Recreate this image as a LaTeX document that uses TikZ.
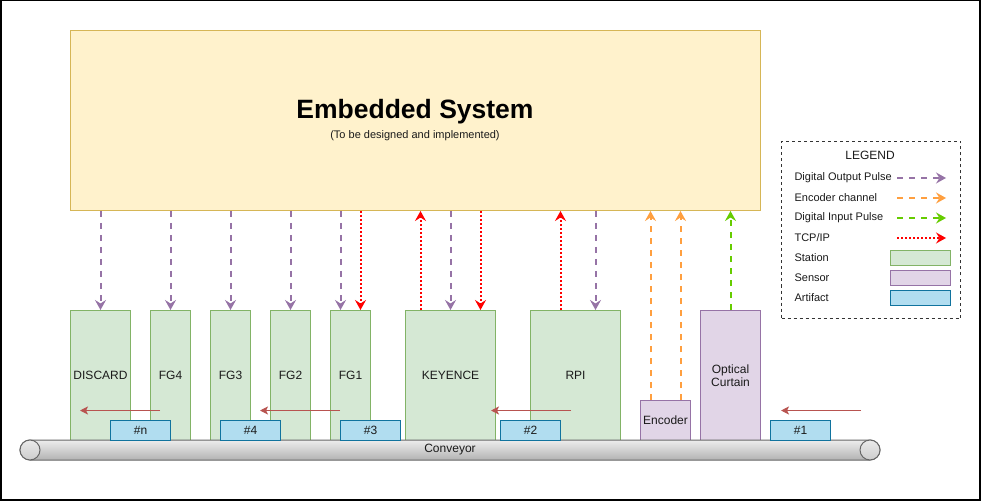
\documentclass[tikz,border=0pt]{standalone}
\usepackage{fontspec}
\setmainfont{Liberation Sans}
\usetikzlibrary{arrows.meta}
\definecolor{mainF}{HTML}{FFF2CC}
\definecolor{mainD}{HTML}{D6B656}
\definecolor{stF}{HTML}{D5E8D4}
\definecolor{stD}{HTML}{82B366}
\definecolor{seF}{HTML}{E1D5E7}
\definecolor{seD}{HTML}{9673A6}
\definecolor{arF}{HTML}{B1DDF0}
\definecolor{arD}{HTML}{10739E}
\definecolor{purp}{HTML}{9673A6}
\definecolor{orng}{HTML}{FF9F3F}
\definecolor{grn}{HTML}{66CC00}
\definecolor{redc}{HTML}{FF0000}
\definecolor{brwn}{HTML}{B85450}
\definecolor{convD}{HTML}{666666}
\definecolor{txt}{HTML}{1A1A1A}
\definecolor{legD}{HTML}{333333}
\begin{document}
\begin{tikzpicture}[x=1pt,y=-1pt,
  every node/.style={text=txt, font=\fontsize{12}{14.4}\selectfont},
  boxbase/.style={draw, line width=1pt, inner sep=0pt, anchor=north west},
  station/.style={boxbase, draw=stD, fill=stF, minimum height=130pt},
  sensor/.style={boxbase, draw=seD, fill=seF},
  artifact/.style={boxbase, draw=arD, fill=arF, minimum width=60pt, minimum height=20pt},
  sig/.style={line width=2pt, -{Stealth[length=10pt,width=11pt,inset=3.5pt]}},
  dout/.style={sig, draw=purp, dash pattern=on 6pt off 6pt},
  enc/.style={sig, draw=orng, dash pattern=on 6pt off 6pt},
  din/.style={sig, draw=grn, dash pattern=on 6pt off 6pt},
  tcp/.style={sig, draw=redc, dash pattern=on 2pt off 2pt},
  move/.style={draw=brwn, line width=1pt, -{Stealth[length=8pt,width=8pt,inset=2pt]}},
  legtext/.style={anchor=west, font=\fontsize{11}{13}\selectfont},
  legbox/.style={draw, line width=1pt, inner sep=0pt, minimum width=60pt, minimum height=15pt},
  roller/.style={circle, draw=convD, line width=1pt, inner sep=0pt, minimum size=20pt, top color=white!92!black, bottom color=white!80!black}
]
\useasboundingbox (0,0) rectangle (981,502);
\draw[line width=1.5pt] (0.75,0.75) rectangle (980,500);

% embedded system
\node[boxbase, draw=mainD, fill=mainF, minimum width=690pt, minimum height=180pt] (main) at (70,30) {};
\node[font=\fontsize{26.5}{30}\selectfont\bfseries, text=black] (title) at (415,112) {Embedded System};
\node[font=\fontsize{11}{13}\selectfont] (sub) at (415,136) {(To be designed and implemented)};

% stations
\node[station, minimum width=60pt] (discard) at (70,310) {DISCARD};
\node[station, minimum width=40pt] (fg4) at (150,310) {FG4};
\node[station, minimum width=40pt] (fg3) at (210,310) {FG3};
\node[station, minimum width=40pt] (fg2) at (270,310) {FG2};
\node[station, minimum width=40pt] (fg1) at (330,310) {FG1};
\node[station, minimum width=90pt] (keyence) at (405,310) {KEYENCE};
\node[station, minimum width=90pt] (rpi) at (530,310) {RPI};

% sensors
\node[sensor, minimum width=50pt, minimum height=40pt] (encoder) at (640,400) {Encoder};
\node[sensor, minimum width=60pt, minimum height=130pt, align=center] (curtain) at (700,310) {Optical\\[-1.5pt]Curtain};

% conveyor
\node[draw=convD, line width=1pt, rounded corners=10pt, inner sep=0pt, minimum width=860pt, minimum height=20pt, top color=white!93!black, bottom color=white!70!black] (conveyor) at (450,450) {Conveyor};
\node[roller] (rollL) at (30,450) {};
\node[roller] (rollR) at (870,450) {};

% artifacts
\node[artifact] (an) at (110,420) {\#n};
\node[artifact] (a4) at (220,420) {\#4};
\node[artifact] (a3) at (340,420) {\#3};
\node[artifact] (a2) at (500,420) {\#2};
\node[artifact] (a1) at (770,420) {\#1};

% movement arrows
\coordinate (m1s) at (160,410.5); \coordinate (m1e) at (80,410.5);
\coordinate (m2s) at (340,410.5); \coordinate (m2e) at (260,410.5);
\coordinate (m3s) at (571,410.5); \coordinate (m3e) at (491,410.5);
\coordinate (m4s) at (861,410.5); \coordinate (m4e) at (781,410.5);
\draw[move] (m1s) -- (m1e);
\draw[move] (m2s) -- (m2e);
\draw[move] (m3s) -- (m3e);
\draw[move] (m4s) -- (m4e);

% signals
\draw[dout] (main.south -| discard.north) -- (discard.north);
\draw[dout] (main.south -| fg4.north) -- (fg4.north);
\draw[dout] (main.south -| fg3.north) -- (fg3.north);
\draw[dout] (main.south -| fg2.north) -- (fg2.north);
\draw[dout] ([xshift=-10pt]fg1.north |- main.south) -- ([xshift=-10pt]fg1.north);
\draw[tcp] ([xshift=10pt]fg1.north |- main.south) -- ([xshift=10pt]fg1.north);
\draw[tcp] ([xshift=-30pt]keyence.north) -- ([xshift=-30pt]keyence.north |- main.south);
\draw[dout] (main.south -| keyence.north) -- (keyence.north);
\draw[tcp] ([xshift=30pt]keyence.north |- main.south) -- ([xshift=30pt]keyence.north);
\draw[tcp] ([xshift=-15pt]rpi.north) -- ([xshift=-15pt]rpi.north |- main.south);
\draw[dout] ([xshift=20pt]rpi.north |- main.south) -- ([xshift=20pt]rpi.north);
\draw[enc] ([xshift=-15pt]encoder.north) -- ([xshift=-15pt]encoder.north |- main.south);
\draw[enc] ([xshift=15pt]encoder.north) -- ([xshift=15pt]encoder.north |- main.south);
\draw[din] (curtain.north) -- (curtain.north |- main.south);

% legend
\node[draw=legD, line width=1pt, dash pattern=on 3pt off 3pt, inner sep=0pt, minimum width=179pt, minimum height=177pt, anchor=north west] (legend) at (781,141) {};
\node (legtitle) at (870,155) {LEGEND};
\node[legtext] (l1) at (791,178) {Digital Output Pulse};
\node[legtext] (l2) at (791,198) {Encoder channel};
\node[legtext] (l3) at (791,218) {Digital Input Pulse};
\node[legtext] (l4) at (791,238) {TCP/IP};
\node[legtext] (l5) at (791,258) {Station};
\node[legtext] (l6) at (791,278) {Sensor};
\node[legtext] (l7) at (791,298) {Artifact};
\coordinate (k1s) at (897,178); \coordinate (k1e) at (946,178);
\coordinate (k2s) at (897,198); \coordinate (k2e) at (946,198);
\coordinate (k3s) at (897,218); \coordinate (k3e) at (946,218);
\coordinate (k4s) at (897,238); \coordinate (k4e) at (946,238);
\draw[dout] (k1s) -- (k1e);
\draw[enc] (k2s) -- (k2e);
\draw[din] (k3s) -- (k3e);
\draw[tcp] (k4s) -- (k4e);
\node[legbox, draw=stD, fill=stF] (b5) at (920.5,258) {};
\node[legbox, draw=seD, fill=seF] (b6) at (920.5,278) {};
\node[legbox, draw=arD, fill=arF] (b7) at (920.5,298) {};
\end{tikzpicture}
\end{document}
